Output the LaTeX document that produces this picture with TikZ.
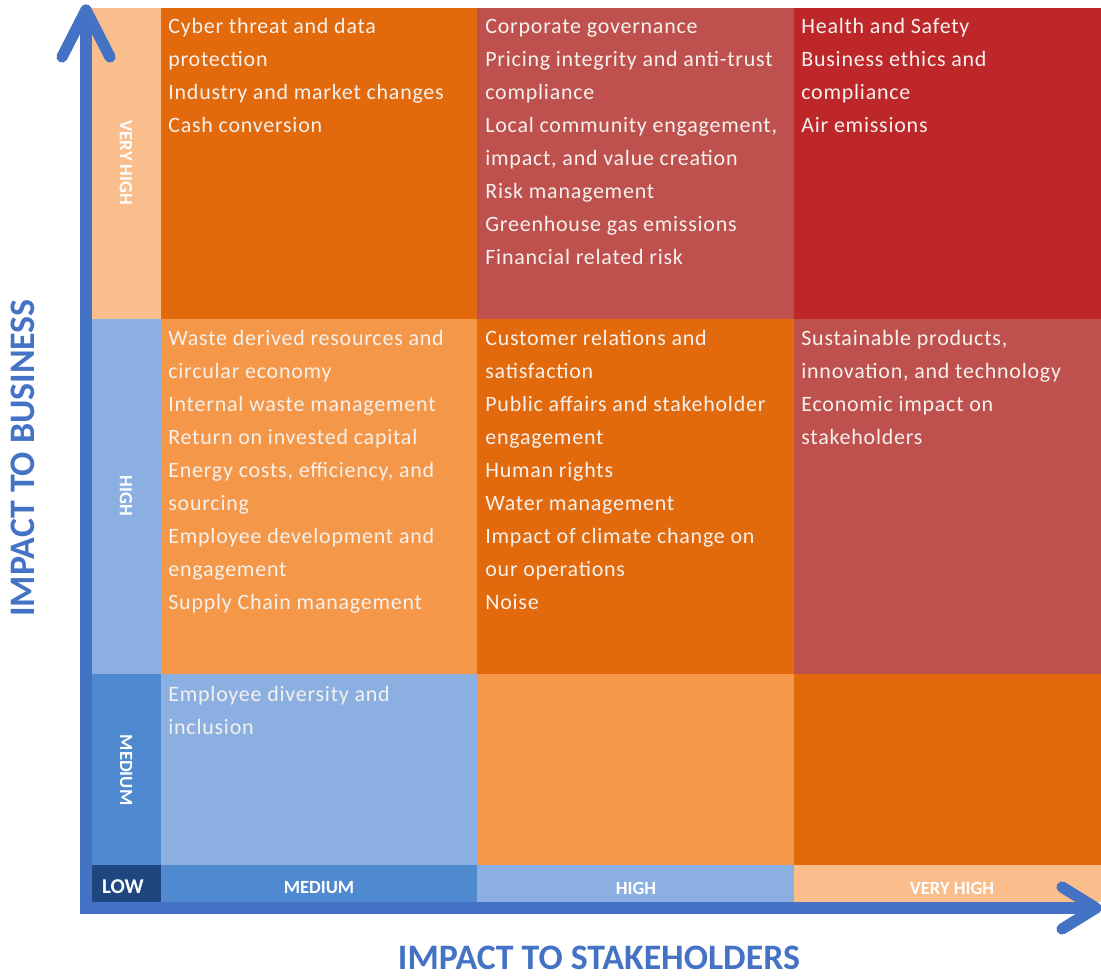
\documentclass[tikz,border=0pt]{standalone}
\usepackage{fontspec}
\setmainfont{Carlito}
\newfontfamily\itemfamily[LetterSpace=3.5]{Carlito}
\usepackage{xcolor}

\definecolor{darkorange}{HTML}{E2690C}
\definecolor{lightorange}{HTML}{F49748}
\definecolor{mutedred}{HTML}{BE504D}
\definecolor{brightred}{HTML}{BE272A}
\definecolor{peach}{HTML}{F9BE8C}
\definecolor{lightblue}{HTML}{8CAFE1}
\definecolor{midblue}{HTML}{4F89CF}
\definecolor{darkblue}{HTML}{1F467F}
\definecolor{axisblue}{HTML}{4472C4}
\definecolor{itemwhite}{HTML}{F4F1EE}

\tikzset{
  itemtext/.style={anchor=north west, inner sep=0pt, align=left, text=itemwhite,
    font=\itemfamily\fontsize{12.5}{18.8}\selectfont},
  levellabel/.style={inner sep=0pt, text=white, font=\bfseries\fontsize{10.6}{12}\selectfont},
  axistitle/.style={inner sep=0pt, text depth=0pt, text=axisblue, font=\bfseries\fontsize{20.4}{22}\selectfont},
  axisline/.style={draw=axisblue, line width=6.4pt}
}

\begin{document}
\begin{tikzpicture}[x=0.02cm, y=-0.02cm]
\useasboundingbox (0,0) rectangle (1101,978);

% Level column on the left
\fill[peach] (92,8) rectangle (161,319);
\fill[lightblue] (92,319) rectangle (161,674);
\fill[midblue] (92,674) rectangle (161,865);

% Level row at the bottom
\fill[darkblue] (92,865) rectangle (161,902);
\fill[midblue] (161,865) rectangle (477,902);
\fill[lightblue] (477,865) rectangle (794,902);
\fill[peach] (794,865) rectangle (1101,902);

% Very high row
\fill[darkorange] (161,8) rectangle (477,319);
\fill[mutedred] (477,8) rectangle (794,319);
\fill[brightred] (794,8) rectangle (1101,319);

% High row
\fill[lightorange] (161,319) rectangle (477,674);
\fill[darkorange] (477,319) rectangle (794,674);
\fill[mutedred] (794,319) rectangle (1101,674);

% Medium row
\fill[lightblue] (161,674) rectangle (477,865);
\fill[lightorange] (477,674) rectangle (794,865);
\fill[darkorange] (794,674) rectangle (1101,865);

% Level labels
\node[levellabel, rotate=-90] (vhigh) at (126,163) {VERY HIGH};
\node[levellabel, rotate=-90] (high) at (126,496) {HIGH};
\node[levellabel, rotate=-90] (medium) at (126,770) {MEDIUM};
\node[levellabel, font=\bfseries\fontsize{12}{14}\selectfont] (low) at (123,887) {LOW};
\node[levellabel] (xmedium) at (319,888) {MEDIUM};
\node[levellabel] (xhigh) at (636,888) {HIGH};
\node[levellabel] (xvhigh) at (952,888) {VERY HIGH};

% Topics, very high impact to business
\node[itemtext] (vhmed) at (168,10) {\strut Cyber threat and data\\protection\\Industry and market changes\\Cash conversion};
\node[itemtext] (vhhigh) at (485,10) {\strut Corporate governance\\Pricing integrity and anti-trust\\compliance\\Local community engagement,\\impact, and value creation\\Risk management\\Greenhouse gas emissions\\Financial related risk};
\node[itemtext] (vhvhigh) at (801,10) {\strut Health and Safety\\Business ethics and\\compliance\\Air emissions};

% Topics, high impact to business
\node[itemtext] (hmed) at (168,322) {\strut Waste derived resources and\\circular economy\\Internal waste management\\Return on invested capital\\Energy costs, efficiency, and\\sourcing\\Employee development and\\engagement\\Supply Chain management};
\node[itemtext] (hhigh) at (485,322) {\strut Customer relations and\\satisfaction\\Public affairs and stakeholder\\engagement\\Human rights\\Water management\\Impact of climate change on\\our operations\\Noise};
\node[itemtext] (hvhigh) at (801,322) {\strut Sustainable products,\\innovation, and technology\\Economic impact on\\stakeholders};

% Topics, medium impact to business
\node[itemtext] (mmed) at (168,678) {\strut Employee diversity and\\inclusion};

% Axes
\coordinate (origin) at (86,908);
\coordinate (ytip) at (86,10);
\coordinate (xtip) at (1096,908);
\draw[axisline, line join=miter] (ytip) -- (origin) -- (xtip);
\draw[axisline, line cap=round, line join=round] (ytip) ++(-24,47) -- (ytip) -- ++(24,47);
\draw[axisline, line cap=round, line join=round] (xtip) ++(-34,-21) -- (xtip) -- ++(-34,21);

\node[axistitle, rotate=90] (ytitle) at (23,458) {IMPACT TO BUSINESS};
\node[axistitle] (xtitle) at (599,958) {IMPACT TO STAKEHOLDERS};
\end{tikzpicture}
\end{document}
